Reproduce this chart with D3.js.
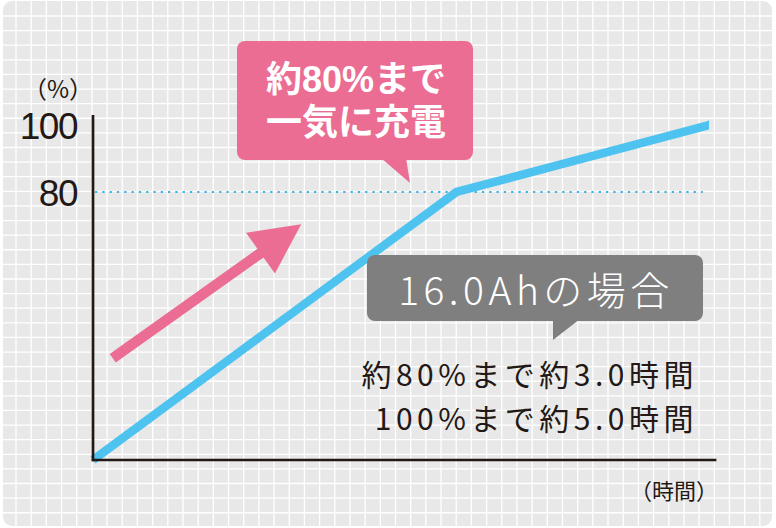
<!DOCTYPE html>
<html>
<head>
<meta charset="utf-8">
<script src="https://cdn.jsdelivr.net/npm/d3@7"></script>
<style>
  html, body { margin: 0; padding: 0; background: #fff; }
  #chart { position: relative; width: 776px; height: 528px; }
  #chart svg { display: block; }
  text { font-family: "Noto Sans CJK JP", "Noto Sans", sans-serif; }
  .callout-text {
    position: absolute;
    font-family: "Liberation Sans", "Noto Sans CJK JP", sans-serif;
    color: #fff;
    text-align: center;
    white-space: nowrap;
  }
</style>
</head>
<body>
<div id="chart"></div>
<script>
// charge curve (hours -> %)
const timeHours = [0, 2.95, 5];
const chargePct = [0, 80, 100];
const yTickValues = [80, 100];
const yUnitLabel = "（%）";
const xUnitLabel = "（時間）";
const pinkCalloutLines = ["約80%まで", "一気に充電"];
const grayCalloutText = "16.0Ahの場合";
const noteLines = ["約80%まで約3.0時間", "100%まで約5.0時間"];

const W = 776, H = 528;
const C = {
    bg: "#e7e8e7",
    grid: "#ffffff",
    ink: "#231815",
    blue: "#4fc3ef",
    dot: "#3db5e8",
    pink: "#eb6d93",
    gray: "#7f7f7f"
};

const svg = d3.select("#chart").append("svg")
    .attr("width", W)
    .attr("height", H);

// rounded grid paper background
svg.append("clipPath").attr("id", "paper")
    .append("rect").attr("x", 3).attr("y", 1).attr("width", 769).attr("height", 525).attr("rx", 9);
const paper = svg.append("g").attr("clip-path", "url(#paper)");
paper.append("rect").attr("x", 3).attr("y", 1).attr("width", 769).attr("height", 525).attr("fill", C.bg);
paper.selectAll(".vg").data(d3.range(0, 50)).enter().append("line")
    .attr("x1", k => 16 + k * 15.18).attr("x2", k => 16 + k * 15.18)
    .attr("y1", 0).attr("y2", H)
    .attr("stroke", C.grid).attr("stroke-width", 1.3);
paper.selectAll(".hg").data(d3.range(0, 35)).enter().append("line")
    .attr("y1", k => 16 + k * 14.61).attr("y2", k => 16 + k * 14.61)
    .attr("x1", 0).attr("x2", W)
    .attr("stroke", C.grid).attr("stroke-width", 1.3);

// scales
const x = d3.scaleLinear().domain([0, 5]).range([93, 709]);
const y = d3.scaleLinear().domain([0, 100]).range([460, 125]);
const xAxisEnd = 5.06, yAxisEnd = 103;

// 80% reference (dotted)
svg.append("line")
    .attr("x1", x(0) + 2).attr("x2", x(4.95))
    .attr("y1", y(80)).attr("y2", y(80))
    .attr("stroke", C.dot).attr("stroke-width", 2.2)
    .attr("stroke-dasharray", "2.3 5");

// charge curve, cut square at the last point
svg.append("clipPath").attr("id", "plotcut")
    .append("rect").attr("x", 0).attr("y", 0).attr("width", x(5)).attr("height", H);
const pts = timeHours.map((t, i) => [t, chargePct[i]]);
svg.append("path")
    .datum(pts)
    .attr("clip-path", "url(#plotcut)")
    .attr("d", d3.line().x(d => x(d[0])).y(d => y(d[1]))(pts.concat([[5.05, 101]])))
    .attr("fill", "none")
    .attr("stroke", C.blue)
    .attr("stroke-width", 8.5)
    .attr("stroke-linejoin", "miter");

// axes
svg.append("line")
    .attr("x1", x(0)).attr("x2", x(0))
    .attr("y1", y(yAxisEnd)).attr("y2", y(0) + 1.3)
    .attr("stroke", C.ink).attr("stroke-width", 2.7);
svg.append("line")
    .attr("x1", x(0) - 1.3).attr("x2", x(xAxisEnd))
    .attr("y1", y(0)).attr("y2", y(0))
    .attr("stroke", C.ink).attr("stroke-width", 2.7);

const yAxis = svg.append("g")
    .attr("transform", `translate(${x(0) - 16},1.5)`)
    .call(d3.axisLeft(y).tickValues(yTickValues).tickSize(0).tickPadding(0));
yAxis.select(".domain").remove();
yAxis.selectAll("text")
    .attr("font-size", 37)
    .attr("letter-spacing", -1.5)
    .attr("fill", C.ink)
    .style("font-family", '"Liberation Sans", sans-serif');

svg.append("text")
    .attr("x", 58).attr("y", 87)
    .attr("text-anchor", "middle").attr("dominant-baseline", "central")
    .attr("font-size", 24).attr("fill", C.ink)
    .text(yUnitLabel);
svg.append("text")
    .attr("x", 718).attr("y", 489)
    .attr("text-anchor", "end").attr("dominant-baseline", "central")
    .attr("font-size", 22).attr("fill", C.ink)
    .text(xUnitLabel);

// pink arrow (in data coords)
function arrowPath(p0, p1, shaftW, headL, headW) {
    const dx = p1[0] - p0[0], dy = p1[1] - p0[1];
    const len = Math.hypot(dx, dy);
    const ux = dx / len, uy = dy / len, nx = -uy, ny = ux;
    const bx = p1[0] - ux * headL, by = p1[1] - uy * headL;
    const s = shaftW / 2, h = headW / 2;
    return [
        [p0[0] + nx * s, p0[1] + ny * s],
        [bx + nx * s, by + ny * s],
        [bx + nx * h, by + ny * h],
        p1,
        [bx - nx * h, by - ny * h],
        [bx - nx * s, by - ny * s],
        [p0[0] - nx * s, p0[1] - ny * s]
    ];
}
svg.append("path")
    .attr("d", d3.line()(arrowPath([x(0.16), y(30.4)], [x(1.69), y(70.4)], 10.5, 50, 50)) + "Z")
    .attr("fill", C.pink);

// pink callout
const pink = svg.append("g");
pink.append("rect")
    .attr("x", 237).attr("y", 41).attr("width", 236).attr("height", 119).attr("rx", 8)
    .attr("fill", C.pink);
pink.append("path")
    .attr("d", "M381,158 L406,158 L410,183 Z")
    .attr("fill", C.pink);
// two tight lines -> one wrapped html block
d3.select("#chart").append("div")
    .attr("class", "callout-text")
    .style("left", "237px").style("top", "58px")
    .style("width", "238px")
    .style("font-size", "36px").style("font-weight", 700)
    .style("line-height", "43px")
    .html(pinkCalloutLines.join("<br>"));

// gray callout
const gray = svg.append("g");
gray.append("rect")
    .attr("x", 367).attr("y", 255).attr("width", 336).attr("height", 66).attr("rx", 8)
    .attr("fill", C.gray);
gray.append("path")
    .attr("d", "M553,319 L580,319 L553,340 Z")
    .attr("fill", C.gray);
gray.append("text")
    .attr("x", 536).attr("y", 288)
    .attr("text-anchor", "middle").attr("dominant-baseline", "central")
    .attr("font-size", 39).attr("font-weight", 300).attr("letter-spacing", 4.5)
    .attr("fill", "#fff")
    .text(grayCalloutText);

// notes
svg.selectAll(".note").data(noteLines).enter().append("text")
    .attr("class", "note")
    .attr("x", 698).attr("y", (d, i) => 373 + i * 44)
    .attr("text-anchor", "end").attr("dominant-baseline", "central")
    .attr("font-size", 30).attr("letter-spacing", 4.5)
    .attr("fill", C.ink)
    .text(d => d);
</script>
</body>
</html>
